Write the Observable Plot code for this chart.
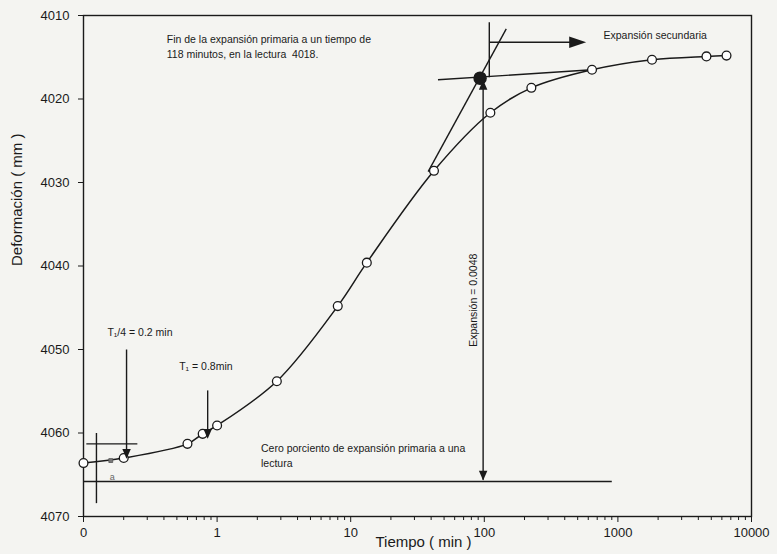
<!DOCTYPE html>
<html>
<head>
<meta charset="utf-8">
<script src="https://cdn.jsdelivr.net/npm/d3@7"></script>
<script src="https://cdn.jsdelivr.net/npm/@observablehq/plot@0.6"></script>
<style>
  html, body { margin: 0; padding: 0; background: #f4f4f1; }
  #chart svg { display: block; }
</style>
</head>
<body>
<div id="chart"></div>
<script>
// ---- Data ----
const tiempo      = [0.1, 0.2, 0.6, 0.78, 1, 2.8, 8, 13.2, 42, 111, 225, 640, 1800, 4600, 6500];
const deformacion = [4063.6, 4063.0, 4061.3, 4060.1, 4059.1, 4053.8, 4044.8, 4039.6, 4028.6, 4021.65, 4018.66, 4016.5, 4015.3, 4014.9, 4014.8];

// small intermediate reading
const smallX = [0.16];
const smallY = [4063.3];

// axis ticks
const yTicks = [4010, 4020, 4030, 4040, 4050, 4060, 4070];
const xMajor = [0.1, 1, 10, 100, 1000, 10000];
const xMajorLabels = ["0", "1", "10", "100", "1000", "10000"];

// construction lines (data units)
const guideX1 = [0.21, 0.85, 0.125, 0.105, 0.1, 98, 109, 109, 38, 45];
const guideY1 = [4050.0, 4054.9, 4060.0, 4061.3, 4065.8, 4017.6, 4010.8, 4013.2, 4028.7, 4017.7];
const guideX2 = [0.21, 0.85, 0.125, 0.253, 900, 98, 109, 470, 146, 640];
const guideY2 = [4062.4, 4059.8, 4068.4, 4061.3, 4065.8, 4065.6, 4017.4, 4013.2, 4011.6, 4016.5];

// arrowheads
const headDownX = [0.21, 0.85, 98];
const headDownY = [4062.5, 4060.1, 4065.1];
const headUpX = [98];
const headUpY = [4018.3];
const headRightX = [500];
const headRightY = [4013.2];

// end of primary expansion
const endX = [93];
const endY = [4017.5];

// annotation texts
const noteX = [0.42, 780, 0.151, 0.52, 2.13];
const noteY = [4013.65, 4012.2, 4047.8, 4051.9, 4062.6];
const noteText = [
  "Fin de la expansión primaria a un tiempo de\n118 minutos, en la lectura  4018.",
  "Expansión secundaria",
  "T\u2081/4 = 0.2 min",
  "T\u2081 = 0.8min",
  "Cero porciento de expansión primaria a una\nlectura"
];
const expText = ["Expansión = 0.0048"];
const expX = [82.8];
const expY = [4044.1];
const aText = ["a"];
const aX = [0.164];
const aY = [4065.3];

// ---- build tables ----
const points = tiempo.map((t, i) => ({t, d: deformacion[i]}));
const guides = guideX1.map((x1, i) => ({x1, y1: guideY1[i], x2: guideX2[i], y2: guideY2[i]}));
const notes = noteX.map((x, i) => ({x, y: noteY[i], text: noteText[i]}));
const labelOf = new Map(xMajor.map((v, i) => [v, xMajorLabels[i]]));
const xMinor = [0.1, 1, 10, 100, 1000].flatMap(b => [2,3,4,5,6,7,8,9].map(k => b * k));

const triDown = {draw(c, size) { const h = Math.sqrt(size); c.moveTo(-h*0.48, -h*0.55); c.lineTo(h*0.48, -h*0.55); c.lineTo(0, h*0.55); c.closePath(); }};
const triUp = {draw(c, size) { const h = Math.sqrt(size); c.moveTo(-h*0.48, h*0.55); c.lineTo(h*0.48, h*0.55); c.lineTo(0, -h*0.55); c.closePath(); }};
const triRight = {draw(c, size) { const h = Math.sqrt(size); c.moveTo(-h*0.6, -h*0.4); c.lineTo(-h*0.6, h*0.4); c.lineTo(h*0.6, 0); c.closePath(); }};

const ink = "#1a1a1a";

const chart = Plot.plot({
  width: 777,
  height: 554,
  marginLeft: 83,
  marginRight: 26,
  marginTop: 15,
  marginBottom: 38,
  x: {type: "log", domain: [0.1, 10000]},
  y: {domain: [4010, 4070], reverse: true},
  style: {fontFamily: "'Liberation Sans', Arial, sans-serif", fontSize: "13px", color: ink, background: "#f4f4f1"},
  marks: [
    Plot.frame({stroke: ink, strokeWidth: 1.4}),
    Plot.axisY({ticks: yTicks, tickSize: 5, tickPadding: 9, tickFormat: d => String(d), label: null, fontSize: 13}),
    Plot.axisX({ticks: xMinor, tickSize: 4, tickFormat: () => "", label: null}),
    Plot.axisX({ticks: xMajor, tickSize: 6, tickPadding: 5, tickFormat: d => labelOf.get(d), label: null, fontSize: 13}),
    Plot.text(["Deformación ( mm )"], {frameAnchor: "left", rotate: -90, dx: -66, fontSize: 15, fill: ink}),
    Plot.text(["Tiempo ( min )"], {frameAnchor: "bottom", dy: 30, dx: 6, fontSize: 15, fill: ink}),
    Plot.link(guides, {x1: "x1", y1: "y1", x2: "x2", y2: "y2", stroke: ink, strokeWidth: 1.4}),
    Plot.line(points, {x: "t", y: "d", curve: "catmull-rom", stroke: ink, strokeWidth: 1.5}),
    Plot.dot(smallX.map((x, i) => ({x, y: smallY[i]})), {x: "x", y: "y", r: 2.2, fill: "#777", stroke: "#555", strokeWidth: 0.8, symbol: "square"}),
    Plot.dot(points, {x: "t", y: "d", r: 4.4, fill: "white", stroke: ink, strokeWidth: 1.3}),
    Plot.dot(headDownX.map((x, i) => ({x, y: headDownY[i]})), {x: "x", y: "y", r: 5, symbol: triDown, fill: ink, stroke: "none"}),
    Plot.dot(headUpX.map((x, i) => ({x, y: headUpY[i]})), {x: "x", y: "y", r: 5, symbol: triUp, fill: ink, stroke: "none"}),
    Plot.dot(headRightX.map((x, i) => ({x, y: headRightY[i]})), {x: "x", y: "y", r: 8, symbol: triRight, fill: ink, stroke: "none"}),
    Plot.dot(endX.map((x, i) => ({x, y: endY[i]})), {x: "x", y: "y", r: 6, fill: ink, stroke: ink}),
    Plot.text(notes, {x: "x", y: "y", text: "text", textAnchor: "start", fontSize: 10.5, lineHeight: 1.4, fill: ink}),
    Plot.text(expText, {x: () => expX[0], y: () => expY[0], text: d => d, rotate: -90, fontSize: 10.5, fill: ink}),
    Plot.text(aText, {x: () => aX[0], y: () => aY[0], text: d => d, fontSize: 9, fill: "#666"})
  ]
});

document.getElementById("chart").appendChild(chart);
</script>
</body>
</html>
